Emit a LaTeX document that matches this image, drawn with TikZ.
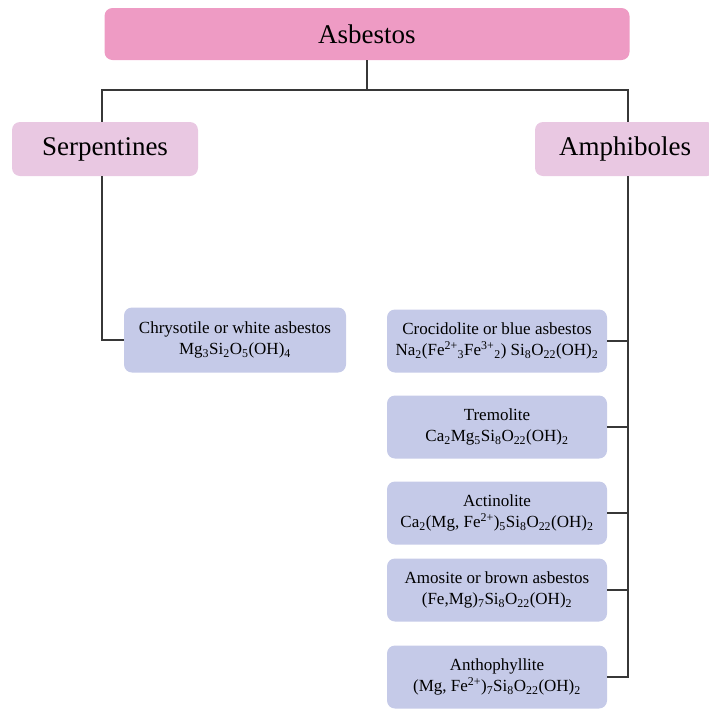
\documentclass[tikz,border=0pt]{standalone}
\usepackage{fontspec}
\setmainfont{Liberation Serif}
\usetikzlibrary{positioning,calc}
\definecolor{asbpink}{RGB}{238,155,196}
\definecolor{grouppink}{RGB}{233,200,226}
\definecolor{minlav}{RGB}{197,202,232}
\definecolor{linegray}{RGB}{55,55,55}
\newcommand{\sbs}[1]{\textsubscript{#1}}
\newcommand{\sps}[1]{\textsuperscript{#1}}

\begin{document}
\begin{tikzpicture}[x=1pt, y=-1pt,
    topbox/.style={fill=asbpink, rounded corners=8pt, minimum width=525pt, minimum height=52pt, font=\fontsize{27}{30}\selectfont},
    groupbox/.style={fill=grouppink, rounded corners=8pt, minimum height=54pt, font=\fontsize{27}{30}\selectfont},
    mineralbox/.style={fill=minlav, rounded corners=8pt, minimum width=220pt, minimum height=63pt, align=center, inner sep=2pt, font=\fontsize{17}{21}\selectfont},
    link/.style={draw=linegray, line width=1.3pt}]
    \useasboundingbox (0,0) rectangle (709,710);
    \clip (0,0) rectangle (709,710);

    % Top level
    \node[topbox] (asb) at (367,34) {Asbestos};

    % Groups
    \node[groupbox, minimum width=186pt] (serp) at (105,149) {Serpentines};
    \node[groupbox, minimum width=180pt] (amph) at (625,149) {Amphiboles};

    % Serpentine minerals
    \node[mineralbox, minimum width=222pt, minimum height=65pt] (chry) at (235,340) {Chrysotile or white asbestos\\Mg\sbs{3}Si\sbs{2}O\sbs{5}(OH)\sbs{4}};

    % Amphibole minerals
    \node[mineralbox] (croc) at (497,341) {Crocidolite or blue asbestos\\Na\sbs{2}(Fe\sps{2+}\sbs{3}Fe\sps{3+}\sbs{2}) Si\sbs{8}O\sbs{22}(OH)\sbs{2}};
    \node[mineralbox] (trem) at (497,427) {Tremolite\\Ca\sbs{2}Mg\sbs{5}Si\sbs{8}O\sbs{22}(OH)\sbs{2}};
    \node[mineralbox] (actin) at (497,513) {Actinolite\\Ca\sbs{2}(Mg, Fe\sps{2+})\sbs{5}Si\sbs{8}O\sbs{22}(OH)\sbs{2}};
    \node[mineralbox] (amos) at (497,590) {Amosite or brown asbestos\\(Fe,Mg)\sbs{7}Si\sbs{8}O\sbs{22}(OH)\sbs{2}};
    \node[mineralbox] (anth) at (497,677) {Anthophyllite\\(Mg, Fe\sps{2+})\sbs{7}Si\sbs{8}O\sbs{22}(OH)\sbs{2}};

    % Connectors
    \coordinate (jl) at (102,90);
    \coordinate (jr) at (628,90);
    \draw[link] (asb.south) -- (asb.south |- jl);
    \draw[link] (serp.north -| jl) -- (jl) -- (jr) -- (amph.north -| jr);
    \draw[link] (serp.south -| jl) |- (chry.west);
    \draw[link] (amph.south -| jr) |- (anth.east);
    \foreach \m in {croc,trem,actin,amos}
        \draw[link] (\m.east) -- (\m.east -| jr);
\end{tikzpicture}
\end{document}
